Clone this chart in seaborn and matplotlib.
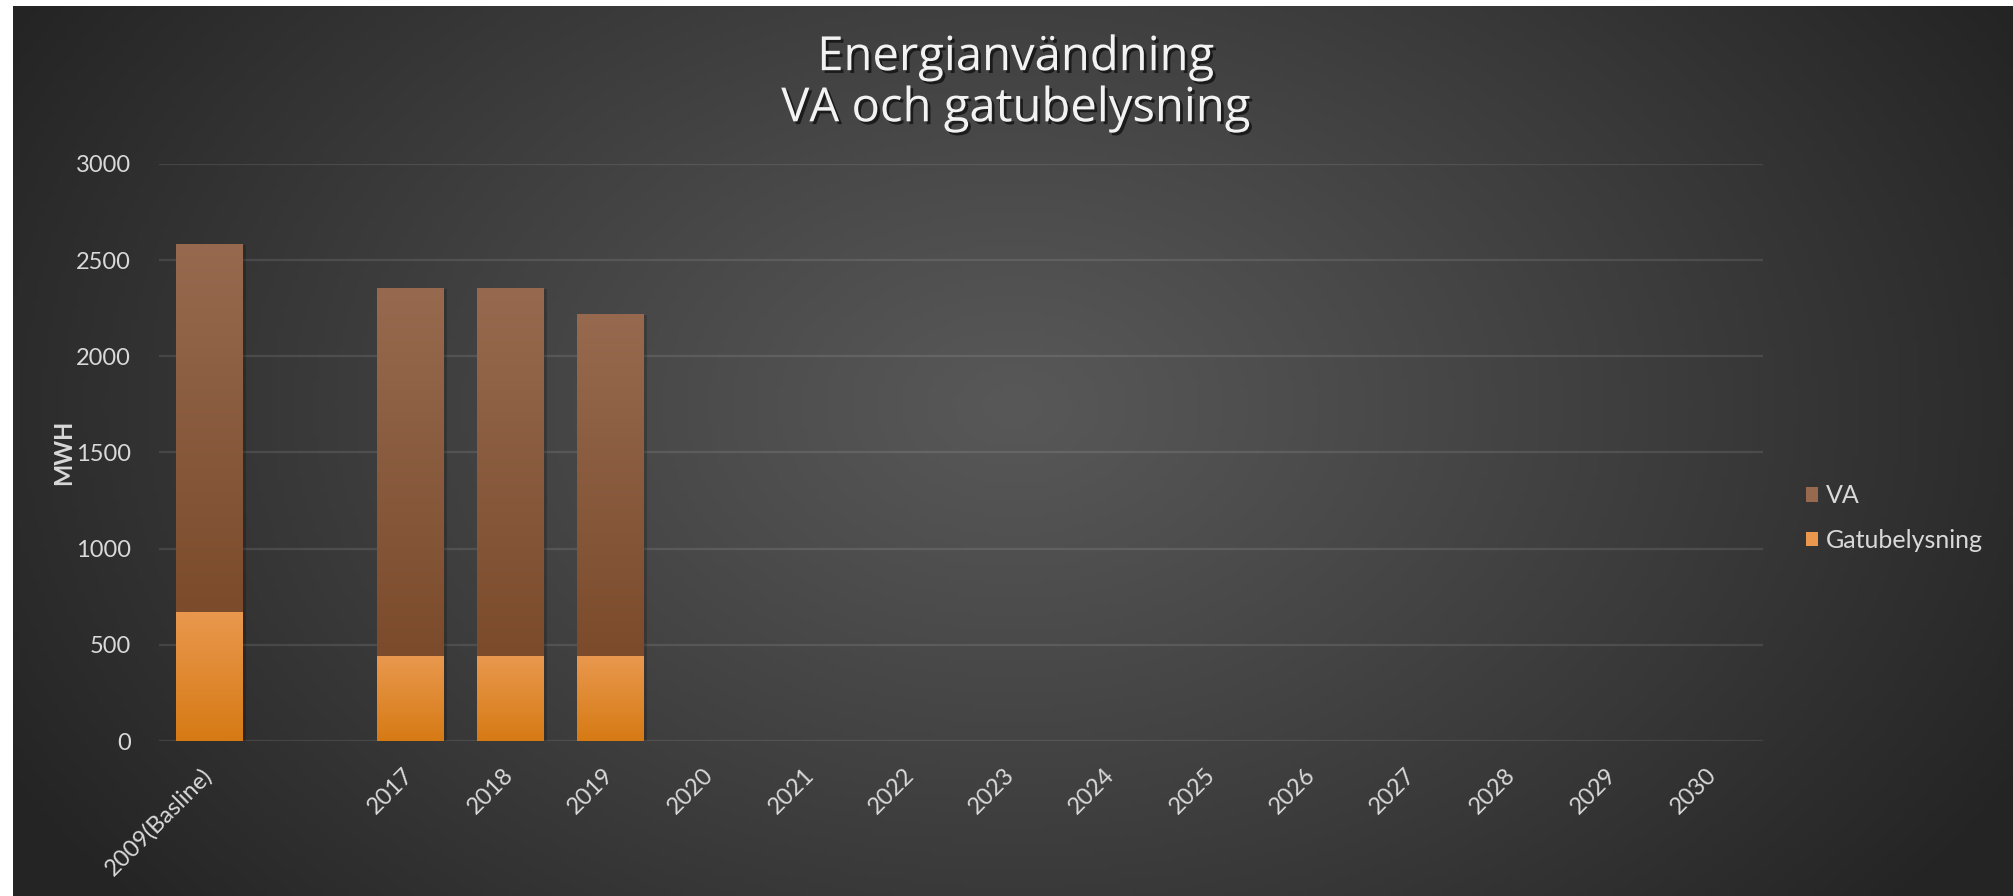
import numpy as np
import pandas as pd
import matplotlib
matplotlib.use("Agg")
import matplotlib.pyplot as plt
import matplotlib.patheffects as pe
from matplotlib.patches import Patch
from matplotlib.colors import LinearSegmentedColormap
import seaborn as sns

categories = ["2009(Basline)", "", "2017", "2018", "2019", "2020", "2021", "2022",
              "2023", "2024", "2025", "2026", "2027", "2028", "2029", "2030"]
years = ["2009(Basline)", "2017", "2018", "2019"]
va = [1915, 1915, 1915, 1780]
gatubelysning = [670, 440, 440, 440]

title = "Energianvändning\nVA och gatubelysning"
ylabel = "MWH"
yticks = [0, 500, 1000, 1500, 2000, 2500, 3000]

VA_TOP, VA_BOT = "#976a4f", "#7b4b2b"
GAT_TOP, GAT_BOT = "#e9984e", "#d67a14"
TXT = "#d9d9d9"

sns.set_theme(style="dark")
plt.rcParams["font.family"] = ["Lato", "DejaVu Sans"]

df = pd.DataFrame({"year": years, "VA": va, "Gatubelysning": gatubelysning})
df["total"] = df["VA"] + df["Gatubelysning"]

W, H = 2013, 896
fig = plt.figure(figsize=(W / 100, H / 100), dpi=100, facecolor="white")

# background panel with radial gradient
bg = fig.add_axes([13 / W, 0, 1 - 13 / W, 1 - 6 / H], zorder=-5)
xx, yy = np.meshgrid(np.linspace(0, 1, 400), np.linspace(0, 1, 200))
r = np.sqrt(((xx - 0.5) / 0.55) ** 2 + ((yy - 0.55) / 0.85) ** 2)
t = np.clip(r / 1.05, 0, 1) ** 1.1
c0, c1 = 0x58 / 255, 0x24 / 255
shade = c0 + (c1 - c0) * t
bg.imshow(np.dstack([shade] * 3), extent=(0, 1, 0, 1), aspect="auto", origin="lower")
bg.set_axis_off()

ax = fig.add_axes([159 / W, 1 - 741 / H, (1763 - 159) / W, (741 - 164) / H])
ax.set_facecolor("none")

shadow = [pe.SimplePatchShadow(offset=(3, -1), shadow_rgbFace="black", alpha=0.18), pe.Normal()]
sns.barplot(data=df, x="year", y="total", order=categories, color=VA_BOT, width=0.66,
            saturation=1, ax=ax, zorder=3)
n_first = len(ax.patches)
sns.barplot(data=df, x="year", y="Gatubelysning", order=categories, color=GAT_BOT, width=0.66,
            saturation=1, ax=ax, zorder=4)

va_cmap = LinearSegmentedColormap.from_list("va", [VA_BOT, VA_TOP])
gat_cmap = LinearSegmentedColormap.from_list("gat", [GAT_BOT, GAT_TOP])
grad = np.linspace(0, 1, 256).reshape(-1, 1)

tot_patches = [p for p in ax.patches[:n_first] if p.get_height() > 0]
gat_patches = [p for p in ax.patches[n_first:] if p.get_height() > 0]
for p in tot_patches:
    p.set_path_effects(shadow)
    p.set_edgecolor("none")
for p in gat_patches:
    p.set_edgecolor("none")

for p, g in zip(tot_patches, gat_patches):
    x0, w = p.get_x(), p.get_width()
    im = ax.imshow(grad, extent=(x0, x0 + w, g.get_height(), p.get_height()), origin="lower",
                   cmap=va_cmap, aspect="auto", zorder=3.5)
    im.set_clip_path(p)
    im2 = ax.imshow(grad, extent=(x0, x0 + w, 0, g.get_height()), origin="lower",
                    cmap=gat_cmap, aspect="auto", zorder=4.5)
    im2.set_clip_path(g)

ax.set_xlim(-0.5, len(categories) - 0.5)
ax.set_ylim(0, 3000)
ax.set_yticks(yticks)
ax.set_yticklabels([str(v) for v in yticks], fontsize=17, color=TXT)
ax.set_xticks(range(len(categories)))
ax.set_xticklabels(categories, rotation=45, ha="right", va="center", rotation_mode="anchor",
                   fontsize=17, color=TXT)
ax.tick_params(axis="x", length=0, pad=22)
ax.tick_params(axis="y", length=0, pad=20)
ax.grid(axis="y", color="white", alpha=0.1, linewidth=1.6, zorder=0)
ax.grid(axis="x", visible=False)
ax.set_axisbelow(True)
for s in ax.spines.values():
    s.set_visible(False)
ax.set_xlabel("")
ax.set_ylabel("")

fig.text(64 / W, 1 - 452 / H, ylabel, rotation=90, ha="center", va="center",
         fontsize=17, color=TXT, fontweight="bold")

fig.text(1016 / W, 1 - 83 / H, title, ha="center", va="center", fontsize=34,
         color="#f2f2f2", linespacing=1.1, family=["Open Sans", "DejaVu Sans"],
         path_effects=[pe.withSimplePatchShadow(offset=(2, -2), shadow_rgbFace="black", alpha=0.6)])

handles = [Patch(facecolor=VA_TOP, edgecolor="none", label="VA"),
           Patch(facecolor=GAT_TOP, edgecolor="none", label="Gatubelysning")]
leg = fig.legend(handles=handles, loc="center left", bbox_to_anchor=(1783 / W, 1 - 518 / H),
                 frameon=False, fontsize=18, handlelength=0.5, handleheight=0.5,
                 handletextpad=0.3, labelspacing=0.85)
for txt in leg.get_texts():
    txt.set_color(TXT)

fig.savefig("out.png", dpi=100, facecolor=fig.get_facecolor())
